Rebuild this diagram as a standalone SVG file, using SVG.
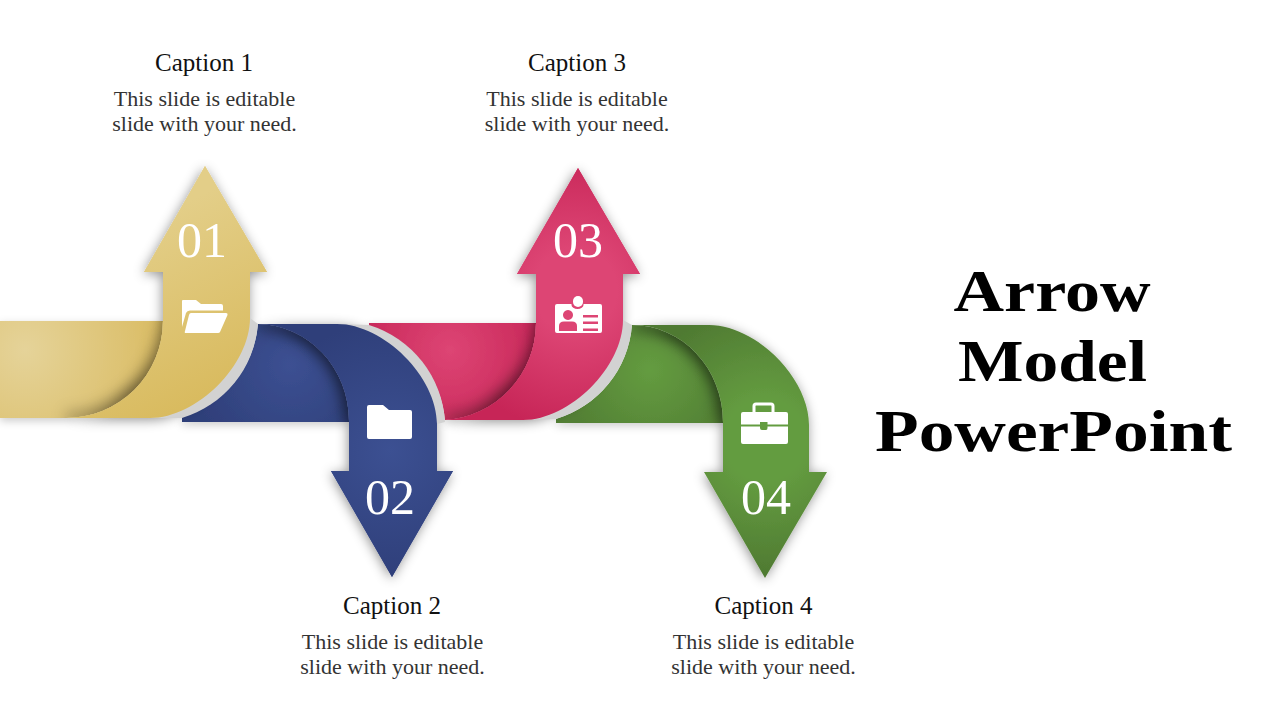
<svg xmlns="http://www.w3.org/2000/svg" width="1280" height="720" viewBox="0 0 1280 720">
<style>
text{font-family:"Liberation Serif",serif;text-anchor:middle}
.cap{font-size:25px;fill:#111}
.body{font-size:22px;fill:#333}
.num{font-size:50px;fill:#fff}
.title{font-weight:bold;font-size:60px;fill:#000}
.halo{fill:#d2d2d2}
.icon{fill:#fff;fill-rule:evenodd}
.handle{fill:none;stroke:#fff;stroke-width:3}
.sh{filter:url(#sh)}
.soft{filter:url(#soft)}
.inner{fill:none;stroke-width:14;filter:url(#blur)}
</style>
<defs>
<filter id="sh" filterUnits="userSpaceOnUse" x="0" y="100" width="900" height="520"><feDropShadow dx="-1" dy="2" stdDeviation="6" flood-color="#000" flood-opacity=".42"/></filter>
<filter id="soft" filterUnits="userSpaceOnUse" x="0" y="100" width="900" height="520"><feDropShadow dx="0" dy="3" stdDeviation="4" flood-color="#000" flood-opacity=".2"/></filter>
<filter id="blur" filterUnits="userSpaceOnUse" x="0" y="100" width="900" height="520"><feGaussianBlur stdDeviation="7"/></filter>
<linearGradient id="fade" x1="0" y1="0" x2="0" y2="1"><stop offset="0" stop-color="#000" stop-opacity=".08"/><stop offset=".75" stop-color="#000" stop-opacity=".42"/><stop offset="1" stop-color="#000" stop-opacity=".18"/></linearGradient>
<radialGradient id="yt" gradientUnits="userSpaceOnUse" cx="25" cy="350" r="150"><stop offset="0" stop-color="#e5d399"/><stop offset="1" stop-color="#d9ba5f"/></radialGradient>
<linearGradient id="yb" gradientUnits="userSpaceOnUse" x1="150" y1="220" x2="240" y2="400"><stop offset="0" stop-color="#e3ce88"/><stop offset="1" stop-color="#d8b95b"/></linearGradient>
<radialGradient id="bt" gradientUnits="userSpaceOnUse" cx="290" cy="365" r="100"><stop offset="0" stop-color="#3c5092"/><stop offset="1" stop-color="#2f3f7a"/></radialGradient>
<radialGradient id="bb" gradientUnits="userSpaceOnUse" cx="390" cy="450" r="130"><stop offset="0" stop-color="#3c5092"/><stop offset="1" stop-color="#2f3f7a"/></radialGradient>
<radialGradient id="pt" gradientUnits="userSpaceOnUse" cx="450" cy="350" r="100"><stop offset="0" stop-color="#dd4574"/><stop offset="1" stop-color="#c72557"/></radialGradient>
<radialGradient id="pb" gradientUnits="userSpaceOnUse" cx="575" cy="290" r="140"><stop offset="0" stop-color="#dd4574"/><stop offset=".3" stop-color="#dd4574"/><stop offset="1" stop-color="#c72557"/></radialGradient>
<radialGradient id="gt" gradientUnits="userSpaceOnUse" cx="650" cy="370" r="90"><stop offset="0" stop-color="#649c40"/><stop offset="1" stop-color="#527f34"/></radialGradient>
<radialGradient id="gb" gradientUnits="userSpaceOnUse" cx="765" cy="440" r="135"><stop offset="0" stop-color="#649c40"/><stop offset=".3" stop-color="#649c40"/><stop offset="1" stop-color="#4f7a32"/></radialGradient>
<path id="body4" d="M632,325 H709 C756,325 809,378 809,425 V472 H827 L765,578 L704,472 H723 V422 A91,97 0 0 0 632,325 Z"/>
<path id="body3" d="M578,168 L640,274 H623 V320 C623,367 570,420 523,420 H445 A97,97 0 0 0 536,323 V274 H517 Z"/>
<path id="body2" d="M258,324 H337 C384,324 437,377 437,424 V471 H453 L392,577 L331,471 H349 V421 A92,97 0 0 0 258,324 Z"/>
<path id="body1" d="M205,166 L267,272 H250 V318 C250,365 197,418 150,418 H65 A97,97 0 0 0 163,321 V272 H144 Z"/>
<clipPath id="c4"><path d="M632,325 A91,97 0 0 1 723,422 V423 H556 V419 A107,107 0 0 0 632,325 Z"/></clipPath>
<clipPath id="c3"><path d="M369,323 H536 A97,97 0 0 1 445,420 A108,108 0 0 0 369,327 Z"/></clipPath>
<clipPath id="c2"><path d="M258,324 A92,97 0 0 1 349,421 V422 H182 V417 A107,107 0 0 0 258,324 Z"/></clipPath>
<clipPath id="c1"><path d="M0,321 H163 A97,97 0 0 1 65,418 H0 Z"/></clipPath>
</defs>
<rect width="1280" height="720" fill="#fff"/>

<g id="arrow-4">
<path class="soft" fill="url(#gt)" d="M632,325 A91,97 0 0 1 723,422 V423 H556 V419 A107,107 0 0 0 632,325 Z"/>
<g clip-path="url(#c4)"><path class="inner" stroke="#000" stroke-opacity=".3" d="M632,325 A91,97 0 0 1 723,422"/></g>
<use href="#body4" class="sh" fill="url(#gb)"/>
<text class="num" x="766" y="514">04</text>
<path class="icon" d="M743,412 H786 Q788,412 788,414 V424.5 H767.5 V422 H760 V424.5 H741 V414 Q741,412 743,412 Z M741,426.5 H760 V428 Q760,430 762,430 H766 Q767.5,430 767.5,428 V426.5 H788 V442 Q788,444 786,444 H743 Q741,444 741,442 Z"/>
<path class="handle" d="M754,412 V406 Q754,404 756,404 H771 Q773,404 773,406 V412"/>
</g>

<g id="arrow-3">
<path class="soft" fill="url(#pt)" d="M369,323 H536 A97,97 0 0 1 445,420 A108,108 0 0 0 369,327 Z"/>
<g clip-path="url(#c3)"><path class="inner" stroke="url(#fade)" d="M536,323 A97,97 0 0 1 445,420"/></g>
<use href="#body3" class="sh" fill="url(#pb)"/>
<path class="halo" d="M632,325 A107,107 0 0 1 556,419 L523,420 L623,320 Z"/>
<use href="#body3" fill="url(#pb)"/>
<text class="num" x="578" y="257">03</text>
<path class="icon" d="M557,304 H571.5 V305 A6,4 0 0 0 583.5,305 V304 H600 Q602,304 602,306 V331 Q602,333 600,333 H557 Q555,333 555,331 V306 Q555,304 557,304 Z M568,310 A5,5 0 1 0 568.01,310 Z M559,331 H577 V326 Q577,321.5 572,321.5 H564 Q559,321.5 559,326 Z M583,315 V317.5 H598 V315 Z M583,321.5 V324 H598 V321.5 Z M583,328.5 V331 H598 V328.5 Z"/>
<rect x="573" y="296" width="10" height="11" rx="5" fill="#fff"/>
</g>

<g id="arrow-2">
<path class="soft" fill="url(#bt)" d="M258,324 A92,97 0 0 1 349,421 V422 H182 V417 A107,107 0 0 0 258,324 Z"/>
<g clip-path="url(#c2)"><path class="inner" stroke="#000" stroke-opacity=".3" d="M258,324 A92,97 0 0 1 349,421"/></g>
<use href="#body2" class="sh" fill="url(#bb)"/>
<path class="halo" d="M445,422 A108,108 0 0 0 369,325 L337,324 L437,424 Z"/>
<use href="#body2" fill="url(#bb)"/>
<text class="num" x="390" y="514">02</text>
<path class="icon" d="M369,405 H383 L389,410 H410 Q412,410 412,412 V437 Q412,439 410,439 H369 Q367,439 367,437 V407 Q367,405 369,405 Z"/>
</g>

<g id="arrow-1">
<path class="soft" fill="url(#yt)" d="M0,321 H163 A97,97 0 0 1 65,418 H0 Z"/>
<g clip-path="url(#c1)"><path class="inner" stroke="url(#fade)" d="M163,321 A97,97 0 0 1 65,418"/></g>
<use href="#body1" class="sh" fill="url(#yb)"/>
<path class="halo" d="M258,324 A107,107 0 0 1 182,418 L150,418 L250,318 Z"/>
<use href="#body1" fill="url(#yb)"/>
<text class="num" x="202" y="257">01</text>
<path class="icon" d="M183,300 H196 L201,304 H221 Q223,304 223,306 V310.5 H190 Q187,310.5 186,313 L182,327 V301 Q182,300 183,300 Z M191,313 H226 Q228,313 227.5,315 L220,332 Q219.5,333 218,333 H186 Q184,333 185,331 L189,315 Q189.5,313 191,313 Z"/>
</g>

<g id="caption-1"><text class="cap" x="204" y="71" textLength="98" lengthAdjust="spacingAndGlyphs">Caption 1</text><text class="body" x="204.5" y="106">This slide is editable</text><text class="body" x="204.5" y="131">slide with your need.</text></g>
<g id="caption-2"><text class="cap" x="392" y="614" textLength="98" lengthAdjust="spacingAndGlyphs">Caption 2</text><text class="body" x="392.5" y="649">This slide is editable</text><text class="body" x="392.5" y="674">slide with your need.</text></g>
<g id="caption-3"><text class="cap" x="577" y="71" textLength="98" lengthAdjust="spacingAndGlyphs">Caption 3</text><text class="body" x="577" y="106">This slide is editable</text><text class="body" x="577" y="131">slide with your need.</text></g>
<g id="caption-4"><text class="cap" x="763.5" y="614" textLength="98" lengthAdjust="spacingAndGlyphs">Caption 4</text><text class="body" x="763.5" y="649">This slide is editable</text><text class="body" x="763.5" y="674">slide with your need.</text></g>
<g id="title"><text class="title" x="1052" y="311" textLength="197" lengthAdjust="spacingAndGlyphs">Arrow</text><text class="title" x="1052.5" y="381" textLength="189" lengthAdjust="spacingAndGlyphs">Model</text><text class="title" x="1053.5" y="451" textLength="357" lengthAdjust="spacingAndGlyphs">PowerPoint</text></g>
</svg>
